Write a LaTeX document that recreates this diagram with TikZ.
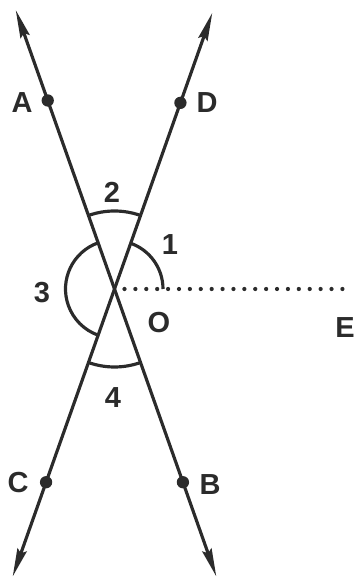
\documentclass[tikz,border=0pt]{standalone}
\usepackage{fontspec}
\setmainfont{Liberation Sans}
\usetikzlibrary{arrows.meta, calc}
\definecolor{ink}{HTML}{2B2B2B}
\tikzset{
  ray/.style={line width=1.8pt, draw=ink, -{Stealth[length=16pt, width=5.5pt, inset=2pt]}},
  pt/.style={circle, fill=ink, inner sep=0pt, minimum size=7pt},
  lab/.style={font=\bfseries\fontsize{16.5}{18}\selectfont, text=ink, inner sep=0pt},
  ang/.style={line width=1.8pt, draw=ink},
  dots/.style={line width=2.4pt, draw=ink, dash pattern=on 0pt off 6.2pt, line cap=round},
}
\begin{document}
\begin{tikzpicture}[x=1cm, y=1cm]
\useasboundingbox (-2.29,-5.8) rectangle (4.81,5.78);

% ---- rays from O ----
\coordinate (O) at (0,0);
\coordinate (endA) at (109.5:5.92);
\coordinate (endD) at (70.5:5.86);
\coordinate (endB) at (-70.5:6.1);
\coordinate (endC) at (-109.5:6.1);
\coordinate (Es) at (0.2,0);
\coordinate (E) at (4.72,0);

\draw[ray] (O) -- (endA);
\draw[ray] (O) -- (endD);
\draw[ray] (O) -- (endB);
\draw[ray] (O) -- (endC);
\draw[dots] (Es) -- (E);

% ---- points ----
\node[pt] (A) at (109.5:4.0) {};
\node[pt] (D) at (70.5:3.95) {};
\node[pt] (B) at (-70.5:4.1) {};
\node[pt] (C) at (-109.5:4.1) {};

% ---- angle marks ----
\draw[ang] ([shift={(0:0.97)}]O) arc[start angle=0, end angle=70.5, radius=0.97];
\draw[ang] ([shift={(70.5:1.56)}]O) arc[start angle=70.5, end angle=109.5, radius=1.56];
\draw[ang] ([shift={(109.5:0.98)}]O) arc[start angle=109.5, end angle=250.5, radius=0.98];
\draw[ang] ([shift={(250.5:1.56)}]O) arc[start angle=250.5, end angle=289.5, radius=1.56];

% ---- labels ----
\node[lab] (labA) at (-1.85, 3.72) {A};
\node[lab] (labD) at (1.85, 3.72) {D};
\node[lab] (labC) at (-1.93, -3.88) {C};
\node[lab] (labB) at (1.91, -3.92) {B};
\node[lab] (labO) at (0.89, -0.68) {O};
\node[lab] (labE) at (4.61, -0.78) {E};
\node[lab] (ang1) at (1.11, 0.88) {1};
\node[lab] (ang2) at (-0.05, 1.94) {2};
\node[lab] (ang3) at (-1.45, -0.08) {3};
\node[lab] (ang4) at (-0.03, -2.18) {4};
\end{tikzpicture}
\end{document}
